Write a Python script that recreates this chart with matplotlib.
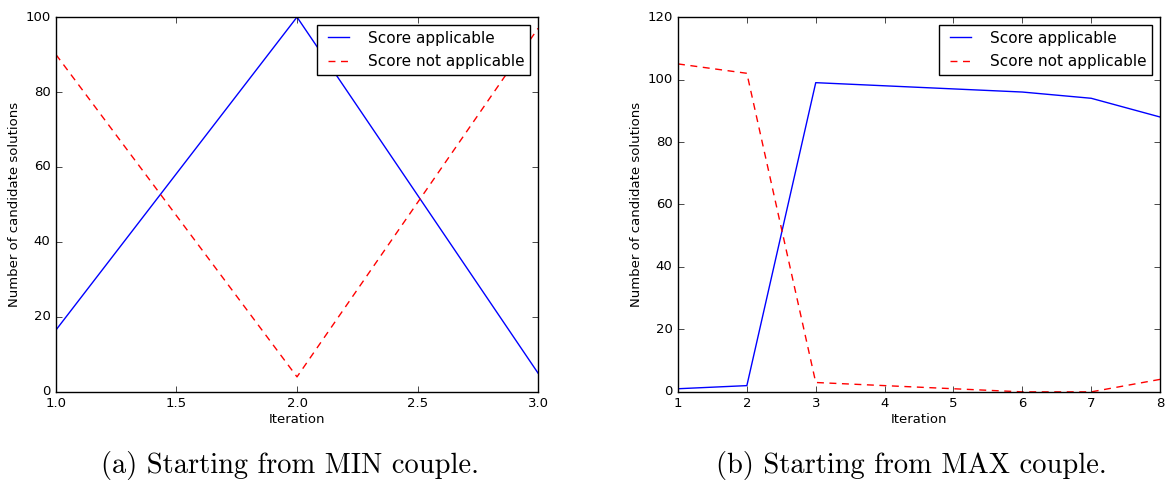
import matplotlib
matplotlib.use("Agg")
import matplotlib.pyplot as plt

# Left panel: runs started from the MIN couple
iter_min = [1.0, 2.0, 3.0]
applicable_min = [16.5, 100, 5]
not_applicable_min = [90, 4, 97]

# Right panel: runs started from the MAX couple
iter_max = [1, 2, 3, 4, 5, 6, 7, 8]
applicable_max = [1, 2, 99, 98, 97, 96, 94, 88]
not_applicable_max = [105, 102, 3, 2, 1, 0, 0, 4]

captions = ["(a) Starting from MIN couple.", "(b) Starting from MAX couple."]

plt.style.use("classic")
plt.rcParams["font.family"] = "DejaVu Sans"
plt.rcParams["xtick.labelsize"] = 9.5
plt.rcParams["ytick.labelsize"] = 9.5
plt.rcParams["axes.labelsize"] = 9.5

fig = plt.figure(figsize=(11.73, 4.88), dpi=100, facecolor="white")
ax1 = fig.add_axes([0.0477, 0.197, 0.411, 0.768])
ax2 = fig.add_axes([0.578, 0.197, 0.411, 0.768])


def draw(ax, x, a, n, ylim, xticks):
    ax.plot(x, a, color="blue", lw=1.0, label="Score applicable")
    ax.plot(x, n, color="red", lw=1.0, ls="--", dashes=(5, 4), label="Score not applicable")
    ax.set_xlim(x[0], x[-1])
    ax.set_ylim(*ylim)
    ax.set_xticks(xticks)
    ax.set_xlabel("Iteration", labelpad=2)
    ax.set_ylabel("Number of candidate solutions")
    ax.yaxis.set_label_coords(-0.072, 0.5)
    ax.tick_params(pad=4)
    leg = ax.legend(loc="upper right", fontsize=11, handlelength=2.0,
                    handletextpad=0.9, borderpad=0.4, labelspacing=0.55,
                    borderaxespad=0.5, frameon=True, fancybox=False, numpoints=2)
    leg.get_frame().set_linewidth(1.0)


draw(ax1, iter_min, applicable_min, not_applicable_min, (0, 100),
     [1.0, 1.5, 2.0, 2.5, 3.0])
draw(ax2, iter_max, applicable_max, not_applicable_max, (0, 120), iter_max)

fig.text(0.247, 0.047, captions[0], ha="center", va="center",
         fontsize=20.5, family="cmr10")
fig.text(0.777, 0.047, captions[1], ha="center", va="center",
         fontsize=20.5, family="cmr10")

fig.savefig("out.png", dpi=100, facecolor="white")
